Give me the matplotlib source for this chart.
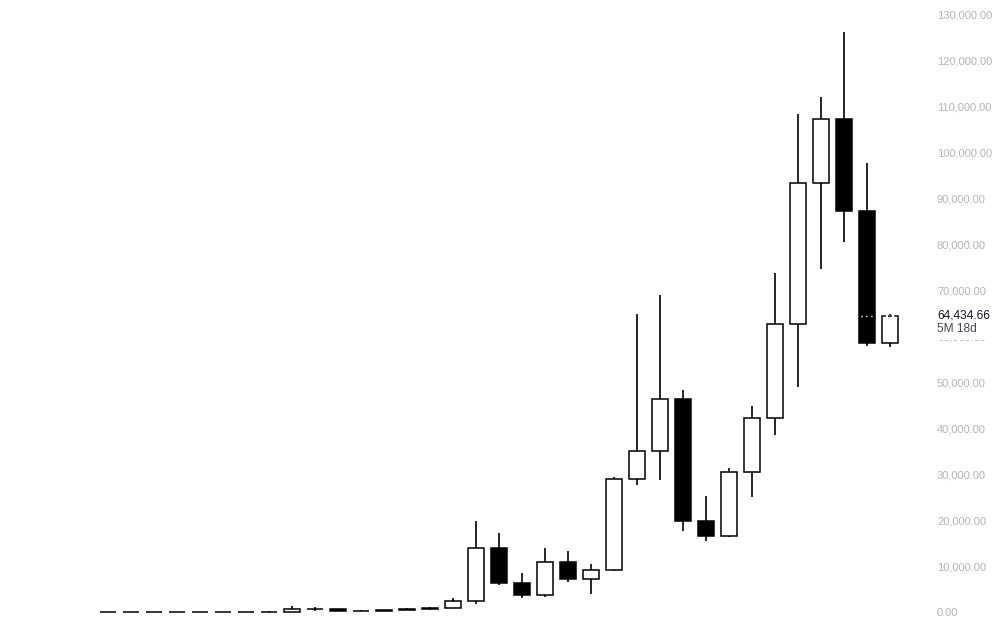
import matplotlib
matplotlib.use("Agg")
import matplotlib.pyplot as plt
from matplotlib.patches import Rectangle

# half-year candles, oldest first
opens = [0.0008, 0.0008, 0.05, 0.3, 16.7, 4.7, 6.7, 13.5, 97, 750, 640, 320,
         263, 430, 670, 960, 2480, 13900, 6400, 3700, 10800, 7200, 9100, 29000,
         35000, 46300, 19800, 16500, 30400, 42200, 62600, 93300, 107100, 87200, 58400]
highs = [0.0008, 0.06, 0.5, 32, 16.7, 7.5, 16, 266, 1200, 1000, 660, 330,
         500, 780, 980, 3000, 19800, 17200, 8500, 13900, 13200, 10500, 29300, 64800,
         69000, 48200, 25200, 31400, 44700, 73800, 108300, 111900, 126000, 97700, 64800]
lows = [0.0008, 0.0008, 0.01, 0.3, 2, 4.2, 6.5, 13, 65, 300, 280, 165,
        200, 360, 470, 890, 1800, 5800, 3150, 3350, 6500, 3900, 8900, 27700,
        28800, 17600, 15500, 16300, 24900, 38500, 49000, 74500, 80500, 57900, 57700]
closes = [0.0008, 0.05, 0.3, 16.7, 4.7, 6.7, 13.5, 97, 750, 640, 320, 263,
          430, 670, 960, 2480, 13900, 6400, 3700, 10800, 7200, 9100, 29000, 35000,
          46300, 19800, 16500, 30400, 42200, 62600, 93300, 107100, 87200, 58400, 64434.66]
y_ticks = list(range(0, 130001, 10000))
last_label = "64,434.66"
countdown = "5M 18d"

W, H = 1002, 628
fig = plt.figure(figsize=(W / 100, H / 100), dpi=100)
ax = fig.add_axes([0, 0, 930 / W, 1])

n = len(opens)
xs = list(range(n))
body_w = 0.72

ax.vlines(xs, lows, highs, color="black", linewidth=1.2, zorder=1)
for i in xs:
    o, c = opens[i], closes[i]
    up = c >= o
    ax.bar(i, abs(c - o), bottom=min(o, c), width=body_w,
           color="white" if up else "black", edgecolor="black",
           linewidth=1.1, zorder=2)

# current price line over the last two candles
last = closes[-1]
ax.hlines(last, n - 2 - body_w / 2 + 0.1, n - 2 + body_w / 2 - 0.1,
          color="white", linestyle=(0, (1, 2.5)), linewidth=1.0, zorder=3)
ax.hlines(last, n - 1 - body_w / 2, n - 1 + body_w / 2,
          color="white", linewidth=1.6, zorder=3)
ax.hlines(last, n - 1 - body_w / 2, n - 1 + body_w / 2,
          color="black", linestyle=(0, (2.5, 1.5)), linewidth=1.1, zorder=4)

ax.set_xlim(-108 / 23, (930 - 108) / 23)
ax.set_ylim(-16 / 0.0046, 612 / 0.0046)

for s in ax.spines.values():
    s.set_visible(False)
ax.set_xticks([])
ax.yaxis.tick_right()
ax.set_yticks(y_ticks)
ax.set_yticklabels([f"{v:,.2f}" for v in y_ticks])
ax.tick_params(axis="y", length=0, pad=5.0, labelsize=8, labelcolor="#b4b4b4")
for lab in ax.get_yticklabels():
    lab.set_horizontalalignment("left")
    lab.set_fontfamily("Liberation Sans")

# last price tag covers the 60,000 label
fig.add_artist(Rectangle((932 / W, 1 - 339.5 / H), 70 / W, 34 / H,
                         transform=fig.transFigure, facecolor="white",
                         edgecolor="none", zorder=5))
fig.text(937 / W, 1 - 315 / H, last_label, ha="left", va="center",
         fontsize=8.6, color="#131722", family="Liberation Sans", zorder=6)
fig.text(937 / W, 1 - 329 / H, countdown, ha="left", va="center",
         fontsize=8.6, color="#434651", family="Liberation Sans", zorder=6)

fig.savefig("out.png", dpi=100, facecolor="white")
